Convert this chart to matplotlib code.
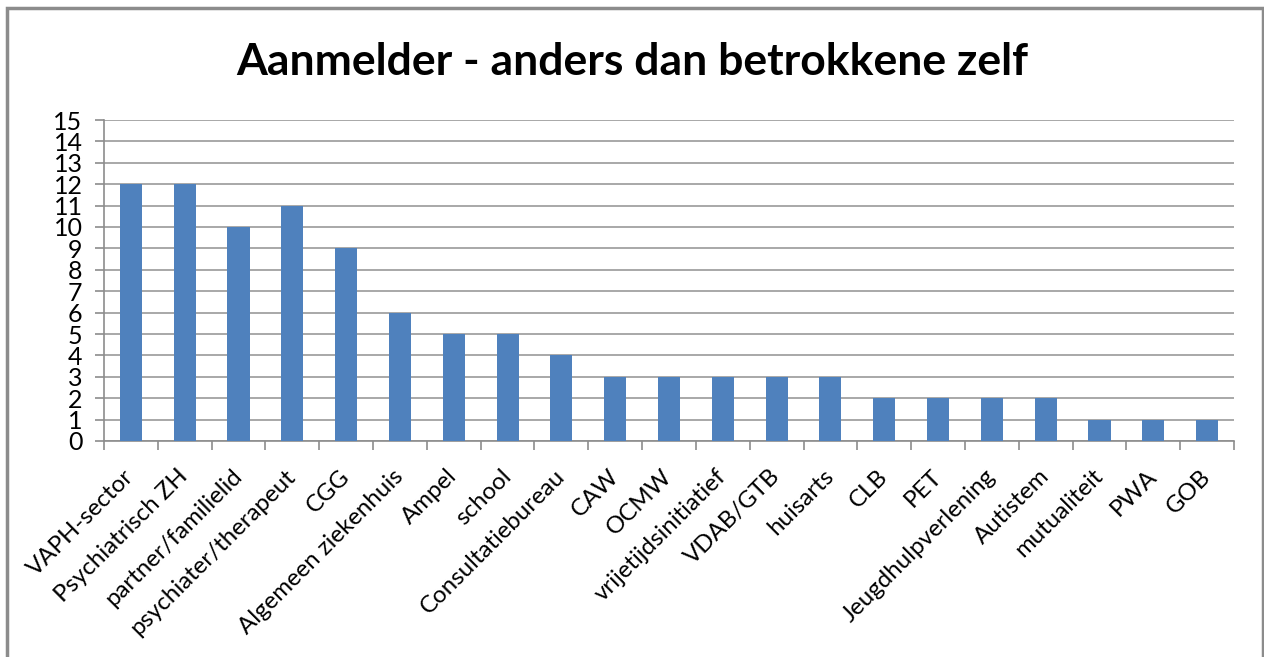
import numpy as np
import matplotlib.pyplot as plt
from matplotlib.patches import Rectangle

categories = ["VAPH-sector", "Psychiatrisch ZH", "partner/familielid", "psychiater/therapeut",
              "CGG", "Algemeen ziekenhuis", "Ampel", "school", "Consultatiebureau", "CAW",
              "OCMW", "vrijetijdsinitiatief", "VDAB/GTB", "huisarts", "CLB", "PET",
              "Jeugdhulpverlening", "Autistem", "mutualiteit", "PWA", "GOB"]
counts = [12, 12, 10, 11, 9, 6, 5, 5, 4, 3, 3, 3, 3, 3, 2, 2, 2, 2, 1, 1, 1]
yticks = list(range(0, 16))

plt.rcParams['font.family'] = ['Lato', 'DejaVu Sans']

fig = plt.figure(figsize=(12.64, 6.57), dpi=100)
fig.patches.append(Rectangle((7 / 1264, -0.01), (1263 - 7) / 1264, 1 - 8 / 657 + 0.01,
                             transform=fig.transFigure, fill=False,
                             edgecolor='#8c8c8c', linewidth=2.5))

ax = fig.add_axes([104 / 1264, 1 - 441 / 657, (1234 - 104) / 1264, (441 - 120) / 657])
x = np.arange(len(categories))
ax.bar(x, counts, width=0.41, color='#4F81BD', zorder=3)

ax.set_xlim(-0.5, len(categories) - 0.5)
ax.set_ylim(0, 15)
ax.set_yticks(yticks)
ax.set_yticklabels([str(t) for t in yticks], fontsize=18)
ax.yaxis.grid(True, color='#9a9a9a', linewidth=1.2, zorder=0)

ax.set_xticks(np.arange(-0.5, len(categories), 1.0))
ax.set_xticklabels([])
ax.set_xticks(x, minor=True)
ax.set_xticklabels(categories, minor=True, rotation=45, ha='right', va='center',
                   rotation_mode='anchor', fontsize=17.3)
ax.tick_params(axis='x', which='minor', length=0, pad=23)
ax.tick_params(axis='x', which='major', length=6.5, color='#8c8c8c', width=1.2)
ax.tick_params(axis='y', length=6.5, color='#8c8c8c', width=1.2, pad=9)

for s in ['top', 'right']:
    ax.spines[s].set_visible(False)
for s in ['left', 'bottom']:
    ax.spines[s].set_color('#8c8c8c')
    ax.spines[s].set_linewidth(1.2)

fig.text(0.5, 1 - 62 / 657, "Aanmelder - anders dan betrokkene zelf", ha='center', va='center',
         fontsize=32, fontweight='bold')

fig.savefig("out.png", dpi=100)
